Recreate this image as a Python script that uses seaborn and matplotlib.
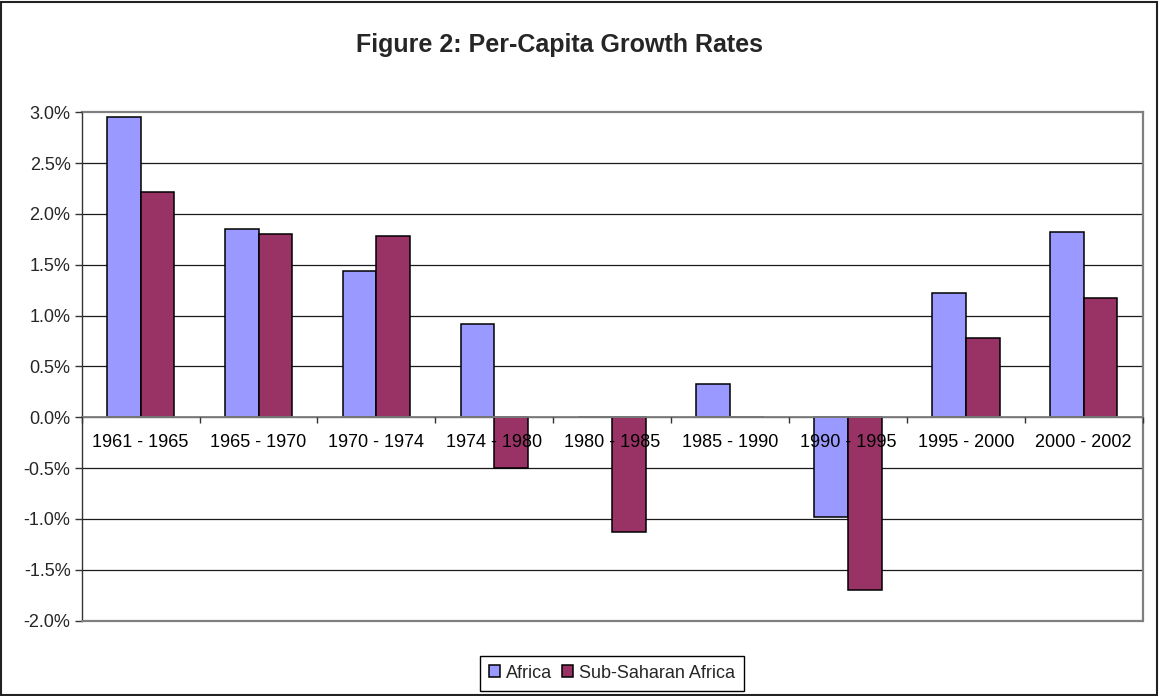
import pandas as pd
import matplotlib
matplotlib.use('Agg')
import matplotlib.pyplot as plt
import seaborn as sns
from matplotlib.patches import Rectangle
from matplotlib.ticker import FuncFormatter, FixedLocator


periodos = ['1961 - 1965', '1965 - 1970', '1970 - 1974', '1974 - 1980', '1980 - 1985',
            '1985 - 1990', '1990 - 1995', '1995 - 2000', '2000 - 2002']
africa = [2.95, 1.85, 1.44, 0.92, 0.0, 0.33, -0.98, 1.22, 1.82]
subsaariana = [2.22, 1.80, 1.78, -0.50, -1.13, 0.0, -1.70, 0.78, 1.17]
series = ['Africa', 'Sub-Saharan Africa']
cores = ['#9999FF', '#993366']
yticks = [-2.0, -1.5, -1.0, -0.5, 0.0, 0.5, 1.0, 1.5, 2.0, 2.5, 3.0]

df = pd.DataFrame({
    'Periodo': periodos * 2,
    'Serie': [series[0]] * len(periodos) + [series[1]] * len(periodos),
    'Valor': africa + subsaariana,
})

sns.set_style('white')
plt.rcParams['font.family'] = ['Liberation Sans', 'DejaVu Sans']

fig = plt.figure(figsize=(11.59, 6.96), dpi=100)
ax = fig.add_axes([0.0705, 0.1083, 0.9154, 0.7303])

sns.barplot(data=df, x='Periodo', y='Valor', hue='Serie', order=periodos,
            hue_order=series, palette=cores, width=0.572, errorbar=None,
            edgecolor='black', linewidth=1.1, saturation=1, ax=ax)

ax.set_ylim(-2.0, 3.0)
ax.set_xlim(-0.5, len(periodos) - 0.5)
ax.set_yticks(yticks)
ax.yaxis.set_major_formatter(FuncFormatter(lambda v, p: f'{v:.1f}%'))
ax.set_axisbelow(False)  # rótulos por cima das barras
ax.grid(False)
for y in yticks[1:-1]:
    ax.axhline(y, color='#1a1a1a', linewidth=0.9, zorder=0.5)
ax.set_xlabel('')
ax.set_ylabel('')

# eixo x passando pelo zero, estilo Excel
ax.spines['bottom'].set_position(('data', 0))
ax.spines['bottom'].set_color('#808080')
ax.spines['bottom'].set_linewidth(1.3)
ax.spines['left'].set_color('#333333')
ax.spines['left'].set_linewidth(1.0)
for s in ['top', 'right']:
    ax.spines[s].set_visible(True)
    ax.spines[s].set_color('#808080')
    ax.spines[s].set_linewidth(1.6)
ax.axhline(-2.0, color='#808080', linewidth=1.6, clip_on=False, zorder=3)

ax.xaxis.set_minor_locator(FixedLocator([i - 0.5 for i in range(len(periodos) + 1)]))
ax.tick_params(axis='x', which='major', length=0, pad=12, labelsize=13, colors='black')
ax.tick_params(axis='x', which='minor', length=4, width=1, color='#333333', direction='out', bottom=True)
ax.tick_params(axis='y', which='major', length=5, width=1, color='#333333', direction='out',
               left=True, labelsize=13, pad=3)

handles, labels = ax.get_legend_handles_labels()
ax.get_legend().remove()
leg = fig.legend(handles, labels, loc='center', bbox_to_anchor=(0.528, 0.033), ncol=2,
                 fontsize=13, frameon=True, fancybox=False, edgecolor='black',
                 framealpha=1, handlelength=0.6, handleheight=0.6, handletextpad=0.3,
                 columnspacing=0.6, borderpad=0.5)
leg.get_frame().set_linewidth(1.0)

fig.text(0.483, 1 - 45 / 696, 'Figure 2: Per-Capita Growth Rates', ha='center', va='center',
         fontsize=18, fontweight='bold')

fig.add_artist(Rectangle((0.001, 0.002), 0.997, 0.995, transform=fig.transFigure,
                         fill=False, edgecolor='#222222', linewidth=1.5))

plt.savefig('out.png', dpi=100)
